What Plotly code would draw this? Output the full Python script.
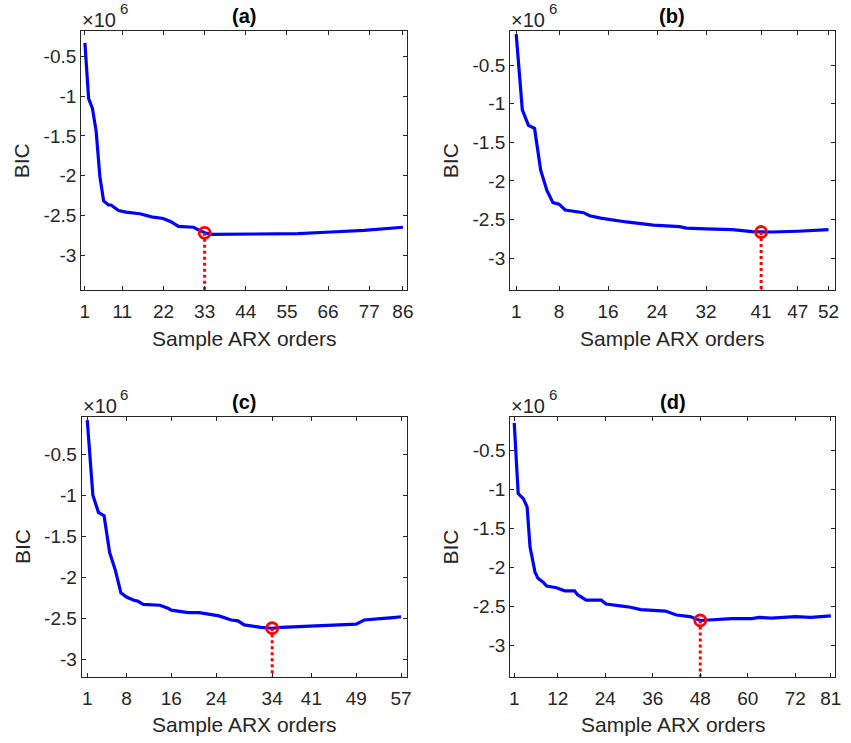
import plotly.graph_objects as go

# ---------------- data (BIC values shown in units of 1e6) ----------------
orders_a = [1, 2, 3, 4, 5, 6, 7.3, 8, 10, 12, 15.7, 18.8, 21.9, 24, 26, 30, 31.6, 33, 35, 46.5, 58, 66.8, 75.6, 86]
bic_a = [-0.33, -1.03, -1.15, -1.44, -2.01, -2.32, -2.37, -2.37, -2.44, -2.46, -2.48, -2.52, -2.54, -2.58,
         -2.64, -2.65, -2.69, -2.72, -2.74, -2.74, -2.73, -2.71, -2.69, -2.65]

orders_b = [1, 2, 3, 4, 5, 6, 7, 8, 9, 12, 13, 14.8, 19, 21.8, 23.4, 27.7, 28.8, 32, 36.3, 39.5, 41, 42.7, 47, 52]
bic_b = [-0.10, -1.08, -1.28, -1.32, -1.86, -2.12, -2.28, -2.30, -2.375, -2.41, -2.45, -2.48, -2.53, -2.55,
         -2.57, -2.59, -2.61, -2.62, -2.63, -2.655, -2.66, -2.66, -2.65, -2.63]

orders_c = [1, 2, 3, 4, 5, 6, 7, 8, 9.3, 10, 11, 14, 15.5, 16, 19, 21, 24.5, 26.7, 27.9, 29, 32, 34, 35.6,
            41, 44.5, 49, 50.4, 51.6, 53.9, 55.6, 57]
bic_c = [-0.086, -1.0, -1.21, -1.25, -1.70, -1.91, -2.19, -2.24, -2.28, -2.29, -2.33, -2.34, -2.38, -2.40,
         -2.43, -2.43, -2.47, -2.52, -2.53, -2.58, -2.61, -2.62, -2.61, -2.59, -2.58, -2.57, -2.52, -2.51,
         -2.50, -2.49, -2.48]

orders_d = [1, 2, 3.3, 4.25, 5, 6.25, 7, 8.3, 9.2, 11.7, 13.75, 16.25, 17, 19.2, 23, 24.2, 28.75, 30.4, 33,
            39.2, 42, 45.4, 48, 50.4, 56, 61, 62.9, 66, 72, 76, 81]
bic_d = [-0.15, -1.055, -1.12, -1.225, -1.74, -2.06, -2.14, -2.19, -2.24, -2.26, -2.30, -2.30, -2.35, -2.42,
         -2.42, -2.47, -2.50, -2.51, -2.54, -2.56, -2.61, -2.63, -2.68, -2.67, -2.655, -2.655, -2.64, -2.65,
         -2.63, -2.64, -2.62]

best_orders = [33, 41, 34, 48]
best_bic = [-2.72, -2.66, -2.62, -2.68]

panel_titles = ["(a)", "(b)", "(c)", "(d)"]
xtick_a = [1, 11, 22, 33, 44, 55, 66, 77, 86]
xtick_b = [1, 8, 16, 24, 32, 41, 47, 52]
xtick_c = [1, 8, 16, 24, 34, 41, 49, 57]
xtick_d = [1, 12, 24, 36, 48, 60, 72, 81]
ytick_vals = [-3, -2.5, -2, -1.5, -1, -0.5]
ytick_text = ["-3", "-2.5", "-2", "-1.5", "-1", "-0.5"]
x_label = "Sample ARX orders"
y_label = "BIC"
exp_base = "×10"
exp_power = "6"

# ---------------- layout helpers ----------------
W, H = 851, 743
TXT = "#262626"
FONT = "Liberation Sans, Arial, Helvetica, sans-serif"

panels = [
    dict(x=orders_a, y=bic_a, ticks=xtick_a, xr=[0, 87], yr=[-3.44, -0.18], px=(80, 409), py=(31, 290)),
    dict(x=orders_b, y=bic_b, ticks=xtick_b, xr=[0, 53], yr=[-3.41, -0.06], px=(513.5, 841.5), py=(31, 290)),
    dict(x=orders_c, y=bic_c, ticks=xtick_c, xr=[0, 58], yr=[-3.21, -0.045], px=(80.5, 409), py=(416.7, 676.7)),
    dict(x=orders_d, y=bic_d, ticks=xtick_d, xr=[0, 82], yr=[-3.40, -0.07], px=(513.7, 841.7), py=(416.7, 676.7)),
]

fig = go.Figure()
annotations = []
layout_axes = {}


def ann(text, xpx, ypx, size, color=TXT, xanchor="center", angle=0):
    return dict(text=text, x=xpx / W, y=1 - ypx / H, xref="paper", yref="paper", showarrow=False,
                xanchor=xanchor, yanchor="middle", textangle=angle,
                font=dict(family=FONT, size=size, color=color))


for i, p in enumerate(panels):
    n = "" if i == 0 else str(i + 1)
    xa, ya = "x" + n, "y" + n
    fig.add_trace(go.Scatter(x=p["x"], y=p["y"], mode="lines", xaxis=xa, yaxis=ya,
                             line=dict(color="#0000FF", width=3.2), showlegend=False))
    fig.add_trace(go.Scatter(x=[best_orders[i], best_orders[i]], y=[best_bic[i], p["yr"][0]],
                             mode="lines", xaxis=xa, yaxis=ya,
                             line=dict(color="#FF0000", width=3, dash="dot"), showlegend=False))
    fig.add_trace(go.Scatter(x=[best_orders[i]], y=[best_bic[i]], mode="markers", xaxis=xa, yaxis=ya,
                             marker=dict(symbol="circle-open", size=11, color="#FF0000",
                                         line=dict(color="#FF0000", width=2.8)), showlegend=False))
    x0, x1 = p["px"]
    y0, y1 = p["py"]
    common = dict(showline=True, linecolor=TXT, linewidth=1, mirror="ticks", ticks="inside",
                  ticklen=4, tickwidth=1, tickcolor=TXT, showgrid=False, zeroline=False,
                  tickfont=dict(family=FONT, size=19, color=TXT))
    layout_axes["xaxis" + n] = dict(domain=[x0 / W, x1 / W], range=p["xr"], anchor=ya,
                                    tickmode="array", tickvals=p["ticks"], ticklabelstandoff=4, **common)
    layout_axes["yaxis" + n] = dict(domain=[1 - y1 / H, 1 - y0 / H], range=p["yr"], anchor=xa,
                                    tickmode="array", tickvals=ytick_vals, ticktext=ytick_text, **common)
    cx = (x0 + x1) / 2
    annotations.append(ann("<b>" + panel_titles[i] + "</b>", cx, y0 - 15, 20, color="black"))
    annotations.append(ann(exp_base, x0 - 1, y0 - 11, 20, xanchor="left"))
    annotations.append(ann(exp_power, x0 + 37, y0 - 22, 15, xanchor="left"))
    annotations.append(ann(x_label, cx, y1 + 48, 21))
    annotations.append(ann(y_label, x0 - 60, (y0 + y1) / 2, 21, angle=-90))

fig.update_layout(width=W, height=H, margin=dict(l=0, r=0, t=0, b=0),
                  plot_bgcolor="white", paper_bgcolor="white",
                  annotations=annotations, **layout_axes)

fig.write_html("out.html", config={"displayModeBar": False},
               post_script="document.body.style.margin='0';document.body.style.overflow='hidden';")
